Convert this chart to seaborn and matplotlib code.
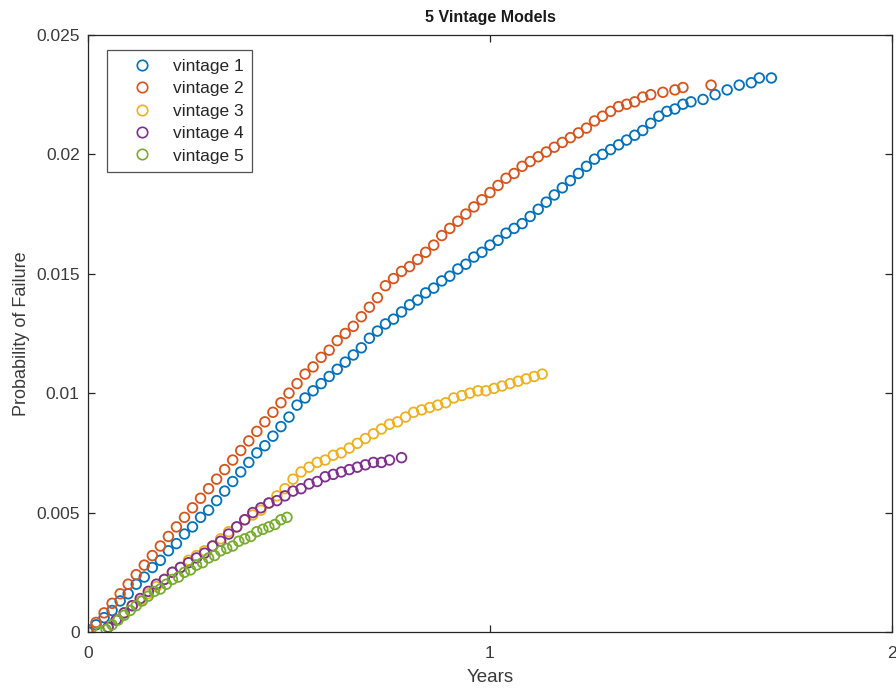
import pandas as pd
from matplotlib import pyplot as plt
from matplotlib.lines import Line2D
import seaborn as sns

# values (years, probability of failure)
v1_x = [0.00, 0.02, 0.04, 0.06, 0.08, 0.10, 0.12, 0.14, 0.16, 0.18, 0.20, 0.22,
        0.24, 0.26, 0.28, 0.30, 0.32, 0.34, 0.36, 0.38, 0.40, 0.42, 0.44, 0.46,
        0.48, 0.50, 0.52, 0.54, 0.56, 0.58, 0.60, 0.62, 0.64, 0.66, 0.68, 0.70,
        0.72, 0.74, 0.76, 0.78, 0.80, 0.82, 0.84, 0.86, 0.88, 0.90, 0.92, 0.94,
        0.96, 0.98, 1.00, 1.02, 1.04, 1.06, 1.08, 1.10, 1.12, 1.14, 1.16, 1.18,
        1.20, 1.22, 1.24, 1.26, 1.28, 1.30, 1.32, 1.34, 1.36, 1.38, 1.40, 1.42,
        1.44, 1.46, 1.48, 1.50, 1.53, 1.56, 1.59, 1.62, 1.65, 1.67, 1.70]
v1_y = [0.0000, 0.0003, 0.0006, 0.0009, 0.0013, 0.0016, 0.0020, 0.0023, 0.0027,
        0.0030, 0.0034, 0.0037, 0.0041, 0.0044, 0.0048, 0.0051, 0.0055, 0.0059,
        0.0063, 0.0067, 0.0071, 0.0075, 0.0078, 0.0082, 0.0086, 0.0090, 0.0095,
        0.0098, 0.0101, 0.0104, 0.0107, 0.0110, 0.0113, 0.0116, 0.0119, 0.0123,
        0.0126, 0.0129, 0.0131, 0.0134, 0.0137, 0.0139, 0.0142, 0.0144, 0.0147,
        0.0149, 0.0152, 0.0154, 0.0157, 0.0159, 0.0162, 0.0164, 0.0167, 0.0169,
        0.0171, 0.0174, 0.0177, 0.0180, 0.0183, 0.0186, 0.0189, 0.0192, 0.0195,
        0.0198, 0.0200, 0.0202, 0.0204, 0.0206, 0.0208, 0.0210, 0.0213, 0.0216,
        0.0218, 0.0219, 0.0221, 0.0222, 0.0223, 0.0225, 0.0227, 0.0229, 0.0230,
        0.0232, 0.0232]

v2_x = [0.00, 0.02, 0.04, 0.06, 0.08, 0.10, 0.12, 0.14, 0.16, 0.18, 0.20, 0.22,
        0.24, 0.26, 0.28, 0.30, 0.32, 0.34, 0.36, 0.38, 0.40, 0.42, 0.44, 0.46,
        0.48, 0.50, 0.52, 0.54, 0.56, 0.58, 0.60, 0.62, 0.64, 0.66, 0.68, 0.70,
        0.72, 0.74, 0.76, 0.78, 0.80, 0.82, 0.84, 0.86, 0.88, 0.90, 0.92, 0.94,
        0.96, 0.98, 1.00, 1.02, 1.04, 1.06, 1.08, 1.10, 1.12, 1.14, 1.16, 1.18,
        1.20, 1.22, 1.24, 1.26, 1.28, 1.30, 1.32, 1.34, 1.36, 1.38, 1.40, 1.43,
        1.46, 1.48, 1.55]
v2_y = [0.0001, 0.0004, 0.0008, 0.0012, 0.0016, 0.0020, 0.0024, 0.0028, 0.0032,
        0.0036, 0.0040, 0.0044, 0.0048, 0.0052, 0.0056, 0.0060, 0.0064, 0.0068,
        0.0072, 0.0076, 0.0080, 0.0084, 0.0088, 0.0092, 0.0096, 0.0100, 0.0104,
        0.0108, 0.0111, 0.0115, 0.0118, 0.0122, 0.0125, 0.0128, 0.0132, 0.0136,
        0.0140, 0.0145, 0.0148, 0.0151, 0.0153, 0.0156, 0.0159, 0.0162, 0.0166,
        0.0169, 0.0172, 0.0175, 0.0178, 0.0181, 0.0184, 0.0187, 0.0190, 0.0192,
        0.0195, 0.0197, 0.0199, 0.0201, 0.0203, 0.0205, 0.0207, 0.0209, 0.0211,
        0.0214, 0.0216, 0.0218, 0.0220, 0.0221, 0.0222, 0.0224, 0.0225, 0.0226,
        0.0227, 0.0228, 0.0229]

v3_x = [0.03, 0.05, 0.07, 0.09, 0.11, 0.13, 0.15, 0.17, 0.19, 0.21, 0.23, 0.25,
        0.27, 0.29, 0.31, 0.33, 0.35, 0.37, 0.39, 0.41, 0.43, 0.45, 0.47, 0.49,
        0.51, 0.53, 0.55, 0.57, 0.59, 0.61, 0.63, 0.65, 0.67, 0.69, 0.71, 0.73,
        0.75, 0.77, 0.79, 0.81, 0.83, 0.85, 0.87, 0.89, 0.91, 0.93, 0.95, 0.97,
        0.99, 1.01, 1.03, 1.05, 1.07, 1.09, 1.11, 1.13]
v3_y = [0.0000, 0.0002, 0.0005, 0.0008, 0.0011, 0.0013, 0.0016, 0.0019, 0.0022,
        0.0025, 0.0027, 0.0030, 0.0032, 0.0034, 0.0036, 0.0039, 0.0042, 0.0044,
        0.0047, 0.0049, 0.0051, 0.0054, 0.0057, 0.0060, 0.0064, 0.0067, 0.0069,
        0.0071, 0.0072, 0.0074, 0.0075, 0.0077, 0.0079, 0.0081, 0.0083, 0.0085,
        0.0087, 0.0088, 0.0090, 0.0092, 0.0093, 0.0094, 0.0095, 0.0096, 0.0098,
        0.0099, 0.0100, 0.0101, 0.0101, 0.0102, 0.0103, 0.0104, 0.0105, 0.0106,
        0.0107, 0.0108]

v4_x = [0.05, 0.07, 0.09, 0.11, 0.13, 0.15, 0.17, 0.19, 0.21, 0.23, 0.25, 0.27,
        0.29, 0.31, 0.33, 0.35, 0.37, 0.39, 0.41, 0.43, 0.45, 0.47, 0.49, 0.51,
        0.53, 0.55, 0.57, 0.59, 0.61, 0.63, 0.65, 0.67, 0.69, 0.71, 0.73, 0.75,
        0.78]
v4_y = [0.0002, 0.0005, 0.0008, 0.0011, 0.0014, 0.0017, 0.0020, 0.0022, 0.0025,
        0.0027, 0.0029, 0.0031, 0.0033, 0.0036, 0.0038, 0.0041, 0.0044, 0.0047,
        0.0050, 0.0052, 0.0054, 0.0055, 0.0057, 0.0059, 0.0060, 0.0062, 0.0063,
        0.0065, 0.0066, 0.0067, 0.0068, 0.0069, 0.0070, 0.0071, 0.0071, 0.0072,
        0.0073]

v5_x = [0.030, 0.045, 0.060, 0.075, 0.090, 0.105, 0.120, 0.135, 0.150, 0.165,
        0.180, 0.195, 0.210, 0.225, 0.240, 0.255, 0.270, 0.285, 0.300, 0.315,
        0.330, 0.345, 0.360, 0.375, 0.390, 0.405, 0.420, 0.435, 0.450, 0.465,
        0.480, 0.495]
v5_y = [0.0000, 0.0001, 0.0003, 0.0005, 0.0007, 0.0009, 0.0011, 0.0013, 0.0015,
        0.0017, 0.0018, 0.0020, 0.0022, 0.0023, 0.0025, 0.0026, 0.0028, 0.0029,
        0.0031, 0.0032, 0.0034, 0.0035, 0.0036, 0.0038, 0.0039, 0.0040, 0.0042,
        0.0043, 0.0044, 0.0045, 0.0047, 0.0048]

names = ['vintage 1', 'vintage 2', 'vintage 3', 'vintage 4', 'vintage 5']
colors = ['#0072BD', '#D95319', '#EDB120', '#7E2F8E', '#77AC30']

frames = []
for name, xs, ys in zip(names, [v1_x, v2_x, v3_x, v4_x, v5_x],
                        [v1_y, v2_y, v3_y, v4_y, v5_y]):
    frames.append(pd.DataFrame({'Years': xs, 'pf': ys, 'vintage': name}))
dataset = pd.concat(frames, ignore_index=True)

sns.set_theme(style="white")
plt.rcParams['font.family'] = ['Liberation Sans', 'DejaVu Sans']
plt.rcParams['xtick.direction'] = 'in'
plt.rcParams['ytick.direction'] = 'in'

fig = plt.figure(figsize=(8.96, 6.9), dpi=100)
ax = fig.add_axes([0.0982, 0.0841, 0.8973, 0.8652])

for name, col in zip(names, colors):
    sns.scatterplot(x='Years', y='pf', data=dataset[dataset['vintage'] == name],
                    color=col, s=48, marker='o', linewidth=1.3, legend=False, ax=ax)

# open circles like the original
for coll, col in zip(ax.collections, colors):
    coll.set_facecolors('none')
    coll.set_edgecolors(col)

ax.set_xlim(0, 2)
ax.set_ylim(0, 0.025)
ax.set_xticks([0, 1, 2])
ax.set_xticklabels(['0', '1', '2'])
ax.set_yticks([0, 0.005, 0.01, 0.015, 0.02, 0.025])
ax.set_yticklabels(['0', '0.005', '0.01', '0.015', '0.02', '0.025'])
ax.tick_params(axis='both', which='both', top=True, right=True, bottom=True, left=True,
               length=5, width=0.9, color='#262626', labelsize=12.5,
               labelcolor='#3a3a3a', pad=6)
ax.tick_params(axis='x', pad=10)
for sp in ax.spines.values():
    sp.set_color('#262626')
    sp.set_linewidth(0.9)

ax.set_xlabel('Years', fontsize=13.5, color='#3a3a3a', labelpad=6)
ax.set_ylabel('Probability of Failure', fontsize=13, color='#3a3a3a', labelpad=4)
ax.set_title('5 Vintage Models', fontsize=11.5, fontweight='bold', color='#1a1a1a', pad=9)

handles = [Line2D([], [], linestyle='none', marker='o', markersize=7.5,
                  markerfacecolor='none', markeredgecolor=c, markeredgewidth=1.2)
           for c in colors]
leg = ax.legend(handles=handles, labels=names, loc='upper left',
                bbox_to_anchor=(0.0235, 0.975), fontsize=12.5, frameon=True,
                fancybox=False, edgecolor='#262626', handlelength=3.0,
                handletextpad=0.3, borderpad=0.5, labelspacing=0.42,
                borderaxespad=0)
leg.get_frame().set_linewidth(0.9)

plt.savefig('out.png', dpi=100)
